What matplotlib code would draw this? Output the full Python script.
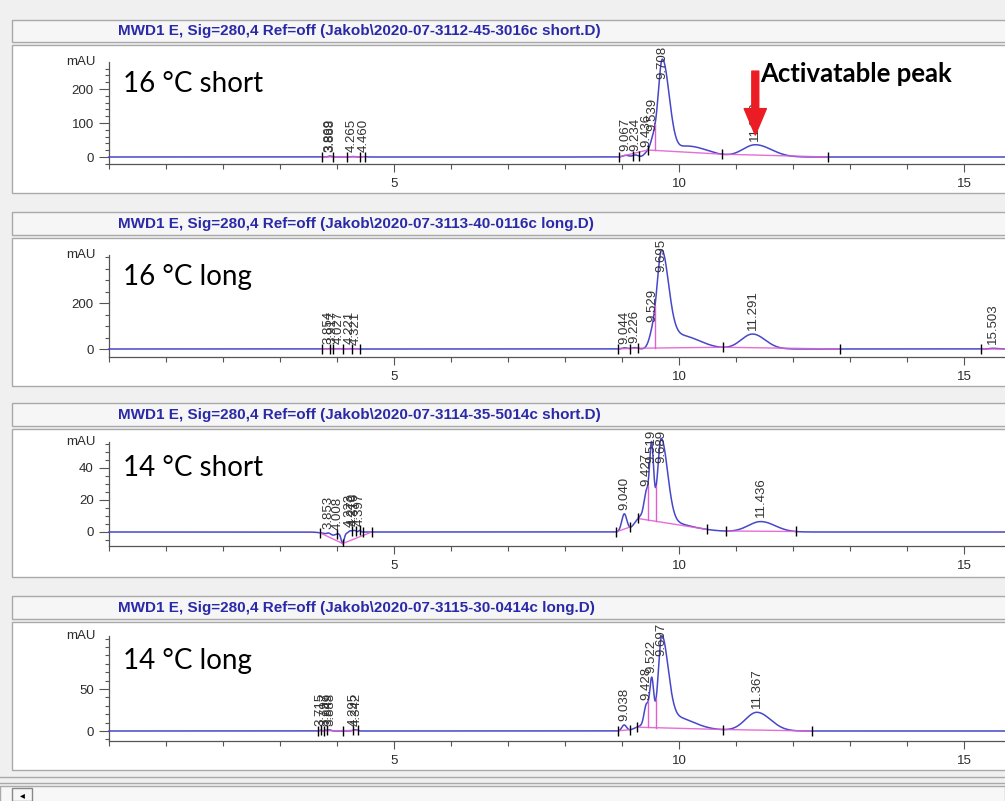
import numpy as np
import matplotlib
matplotlib.use("Agg")
import matplotlib.pyplot as plt
from matplotlib.patches import Rectangle
from matplotlib.ticker import MultipleLocator, FixedLocator, NullFormatter

plt.rcParams['font.family'] = ['Liberation Sans', 'DejaVu Sans']

W, H, DPI = 1005, 801, 100
T_MAX = 15.72

# ---------------- data ----------------
titles = [
    "MWD1 E, Sig=280,4 Ref=off (Jakob\\2020-07-3112-45-3016c short.D)",
    "MWD1 E, Sig=280,4 Ref=off (Jakob\\2020-07-3113-40-0116c long.D)",
    "MWD1 E, Sig=280,4 Ref=off (Jakob\\2020-07-3114-35-5014c short.D)",
    "MWD1 E, Sig=280,4 Ref=off (Jakob\\2020-07-3115-30-0414c long.D)",
]
conditions = ["16 °C short", "16 °C long", "14 °C short", "14 °C long"]

# labelled peaks: retention time [min], height [mAU], front / tail widths [min]
rt_16s = [3.869, 3.888, 4.265, 4.460, 9.067, 9.234, 9.436, 9.539, 9.708, 11.339]
h_16s = [1.5, 1.5, 1.5, 1.0, 5, 6, 12, 40, 285, 36]
wf_16s = [0.03, 0.03, 0.04, 0.03, 0.05, 0.05, 0.05, 0.05, 0.075, 0.22]
wt_16s = [0.03, 0.03, 0.04, 0.03, 0.05, 0.05, 0.05, 0.05, 0.12, 0.28]

rt_16l = [3.854, 3.917, 4.027, 4.221, 4.321, 9.044, 9.226, 9.529, 9.695, 11.291, 15.503]
h_16l = [1.5, 1.5, 1.5, 1.5, 1.0, 5, 6, 50, 410, 65, 3]
wf_16l = [0.03, 0.03, 0.03, 0.03, 0.03, 0.05, 0.05, 0.06, 0.08, 0.20, 0.06]
wt_16l = [0.03, 0.03, 0.03, 0.03, 0.03, 0.05, 0.05, 0.06, 0.12, 0.22, 0.08]

rt_14s = [3.853, 4.008, 4.223, 4.270, 4.316, 4.397, 9.040, 9.427, 9.519, 9.689, 11.436]
h_14s = [1.0, 0.8, 1.0, 1.0, 1.0, 1.0, 11, 15, 45, 50, 6.5]
wf_14s = [0.03, 0.03, 0.02, 0.02, 0.02, 0.02, 0.045, 0.04, 0.035, 0.06, 0.22]
wt_14s = [0.03, 0.03, 0.02, 0.02, 0.02, 0.02, 0.045, 0.04, 0.035, 0.11, 0.25]

rt_14l = [3.715, 3.797, 3.849, 3.888, 4.295, 4.342, 9.038, 9.428, 9.522, 9.697, 11.367]
h_14l = [1.0, 1.0, 1.0, 1.0, 1.0, 1.0, 7, 25, 55, 105, 22]
wf_14l = [0.02, 0.02, 0.02, 0.02, 0.03, 0.03, 0.04, 0.04, 0.035, 0.06, 0.20]
wt_14l = [0.02, 0.02, 0.02, 0.02, 0.03, 0.03, 0.04, 0.04, 0.035, 0.11, 0.24]

# unlabelled contributions (tailing / drift / negative disturbance)
ext_rt_16s, ext_h_16s, ext_wf_16s, ext_wt_16s = [10.15], [32], [0.20], [0.35]
ext_rt_16l, ext_h_16l, ext_wf_16l, ext_wt_16l = [10.0], [60], [0.20], [0.35]
ext_rt_14s, ext_h_14s, ext_wf_14s, ext_wt_14s = [9.35, 4.10, 3.95], [10, -6, -2], [0.12, 0.025, 0.15], [0.60, 0.025, 0.15]
ext_rt_14l, ext_h_14l, ext_wf_14l, ext_wt_14l = [9.35, 9.95], [6, 12], [0.12, 0.15], [0.80, 0.30]

# integration events: start/stop marks, baselines, drop lines
marks_16s = [3.73, 3.93, 4.17, 4.40, 4.49, 8.95, 9.19, 9.30, 9.45, 10.75, 12.62]
bases_16s = [(3.73, 4.49), (8.95, 9.45), (9.45, 10.75), (10.75, 12.62)]
drops_16s = [9.58]

marks_16l = [3.73, 3.88, 3.93, 4.10, 4.26, 4.40, 8.93, 9.14, 9.28, 10.77, 12.82, 15.30]
bases_16l = [(3.73, 4.40), (8.93, 9.28), (9.28, 10.77), (10.77, 12.82), (15.30, T_MAX)]
drops_16l = [9.58]

marks_14s = [3.70, 4.00, 4.10, 4.27, 4.34, 4.40, 4.46, 4.61, 8.90, 9.14, 9.28, 10.50, 10.83, 12.05]
bases_14s = [(3.70, 4.10), (4.10, 4.61), (8.90, 9.14), (9.28, 10.50), (10.83, 12.05)]
drops_14s = [9.45, 9.60]

marks_14l = [3.67, 3.72, 3.77, 3.82, 4.10, 4.28, 4.37, 8.93, 9.14, 9.26, 10.77, 12.33]
bases_14l = [(3.67, 4.37), (8.93, 9.14), (9.26, 10.77), (10.77, 12.33)]
drops_14l = [9.46, 9.60]

yticks_major = [[0, 100, 200], [0, 200], [0, 20, 40], [0, 50]]
yticks_minor = [20, 50, 5, 10]
xticks_major = [5, 10, 15]

panels = [
    (rt_16s, h_16s, wf_16s, wt_16s, ext_rt_16s, ext_h_16s, ext_wf_16s, ext_wt_16s, marks_16s, bases_16s, drops_16s),
    (rt_16l, h_16l, wf_16l, wt_16l, ext_rt_16l, ext_h_16l, ext_wf_16l, ext_wt_16l, marks_16l, bases_16l, drops_16l),
    (rt_14s, h_14s, wf_14s, wt_14s, ext_rt_14s, ext_h_14s, ext_wf_14s, ext_wt_14s, marks_14s, bases_14s, drops_14s),
    (rt_14l, h_14l, wf_14l, wt_14l, ext_rt_14l, ext_h_14l, ext_wf_14l, ext_wt_14l, marks_14l, bases_14l, drops_14l),
]

# ---------------- layout (pixels from the top) ----------------
# header top, header bottom, box top, box bottom, x-axis row, zero row, px per mAU, mAU row
layout = [
    (20, 42, 45, 193, 164, 157, 0.34, 62),
    (212, 235, 238, 386, 357, 349, 0.23, 255),
    (403, 426, 429, 577, 546, 532, 1.60, 442),
    (596, 619, 622, 770, 741, 731, 0.84, 636),
]
X0_PX = 109

TRACE = '#4747c9'
BASE = '#e25fd3'
FRAME = '#a9a9a9'
TXT = '#2b2b2b'


def signal(t, rts, hs, wf, wt):
    y = np.zeros_like(t)
    for r, h, a, b in zip(rts, hs, wf, wt):
        s = np.where(t < r, a, b)
        y += h * np.exp(-0.5 * ((t - r) / s) ** 2)
    return y


fig = plt.figure(figsize=(W / DPI, H / DPI), dpi=DPI, facecolor='#f0f0f0')
bg = fig.add_axes([0, 0, 1, 1])
bg.set_xlim(0, W)
bg.set_ylim(H, 0)
bg.axis('off')

t = np.linspace(0, T_MAX, 6000)
label_texts = []

for i, (pdata, lay) in enumerate(zip(panels, layout)):
    rts, hs, wf, wt, ert, eh, ewf, ewt, marks, bases, drops = pdata
    htop, hbot, btop, bbot, axis_px, zero_px, ppu, mau_px = lay

    bg.add_patch(Rectangle((12, htop), W, hbot - htop, facecolor='#f6f6f6', edgecolor=FRAME, lw=1.0))
    bg.add_patch(Rectangle((12, btop), W, bbot - btop, facecolor='white', edgecolor=FRAME, lw=1.0))
    bg.text(118, (htop + hbot) / 2 + 0.5, titles[i], color='#2a2aa8', fontsize=11,
            fontweight='bold', ha='left', va='center')
    bg.text(96, mau_px, 'mAU', fontsize=9.5, color=TXT, ha='right', va='center')
    bg.text(123, btop + 47, conditions[i], family=['Lato', 'DejaVu Sans'], fontsize=20,
            color='black', ha='left', va='baseline')

    ax = fig.add_axes([X0_PX / W, 1 - axis_px / H, (W - X0_PX) / W, (axis_px - btop) / H])
    ax.set_facecolor('none')
    ylo = (zero_px - axis_px) / ppu
    yhi = (zero_px - btop) / ppu
    ax.set_xlim(0, T_MAX)
    ax.set_ylim(ylo, yhi)
    for s in ('top', 'right'):
        ax.spines[s].set_visible(False)
    for s in ('left', 'bottom'):
        ax.spines[s].set_color('#555555')
        ax.spines[s].set_linewidth(0.9)
    ymax_tick = (zero_px - mau_px) / ppu
    ax.spines['left'].set_bounds(ylo, ymax_tick)

    ax.yaxis.set_major_locator(FixedLocator(yticks_major[i]))
    step = yticks_minor[i]
    ax.yaxis.set_minor_locator(FixedLocator(
        list(np.arange(np.ceil(ylo / step) * step, ymax_tick + 1e-6, step))))
    ax.yaxis.set_minor_formatter(NullFormatter())
    ax.xaxis.set_major_locator(FixedLocator(xticks_major))
    ax.xaxis.set_minor_locator(MultipleLocator(1))
    ax.tick_params(axis='y', which='major', length=7, width=0.8, pad=4, labelsize=9.5,
                   colors='#555555', labelcolor=TXT)
    ax.tick_params(axis='y', which='minor', length=3, width=0.8, colors='#555555')
    ax.tick_params(axis='x', which='major', length=6, width=0.8, pad=4, labelsize=9.5,
                   colors='#555555', labelcolor=TXT)
    ax.tick_params(axis='x', which='minor', length=3.5, width=0.8, colors='#555555')

    def curve(x):
        x = np.asarray(x, dtype=float)
        return signal(x, rts, hs, wf, wt) + signal(x, ert, eh, ewf, ewt)

    y = curve(t)
    ax.plot(t, y, color=TRACE, lw=1.1, zorder=3, clip_on=False)

    # integration baselines and drop lines
    for a, b in bases:
        ax.plot([a, b], [curve(a), curve(b)], color=BASE, lw=1.0, zorder=4, alpha=0.9)
    for d in drops:
        for a, b in bases:
            if a <= d <= b:
                yb = curve(a) + (curve(b) - curve(a)) * (d - a) / (b - a)
                ax.plot([d, d], [yb, curve(d)], color=BASE, lw=1.0, zorder=4)
    ax.plot(marks, curve(marks), ls='none', marker='|', ms=7, mew=1.0, color='black', zorder=5)

    # retention-time labels
    for r in rts:
        txt = ax.annotate(f"{r:.3f}", xy=(r, curve(r)), xytext=(0, 3), textcoords='offset points',
                          rotation=90, ha='center', va='bottom', fontsize=9.5, color='#333333',
                          zorder=6, annotation_clip=False)
        label_texts.append((txt, btop))

    if i == 0:
        r_act = rts[-1]
        y_act = curve(r_act)
        ax.annotate('', xy=(r_act, y_act), xytext=(0, 53), textcoords='offset points',
                    arrowprops=dict(arrowstyle='simple,head_length=19,head_width=16,tail_width=5',
                                    mutation_scale=1, color='#ec1c24', shrinkA=0, shrinkB=7),
                    zorder=8)
        bg.text(760, 82, 'Activatable peak', family=['Lato', 'DejaVu Sans'], fontweight='bold',
                fontsize=18.5, color='black', ha='left', va='baseline')

# bottom scroll strip
bg.plot([0, W], [777, 777], color=FRAME, lw=1.0)
bg.plot([0, W], [783, 783], color=FRAME, lw=1.0)
bg.add_patch(Rectangle((0, 786), W, 16, facecolor='#f7f7f7', edgecolor=FRAME, lw=1.0))
bg.add_patch(Rectangle((12, 788), 20, 13, facecolor='#f7f7f7', edgecolor='#888888', lw=1.0))
bg.text(22, 795, '◂', fontsize=7, ha='center', va='center', color='black')

# push labels that would run past the top of their frame back inside
fig.canvas.draw()
for txt, btop in label_texts:
    bb = txt.get_window_extent()
    limit = H - btop - 1
    if bb.y1 > limit:
        dy_pt = (bb.y1 - limit) * 72 / DPI
        txt.xyann = (0, 3 - dy_pt)

fig.savefig('out.png', dpi=DPI, facecolor=fig.get_facecolor())
